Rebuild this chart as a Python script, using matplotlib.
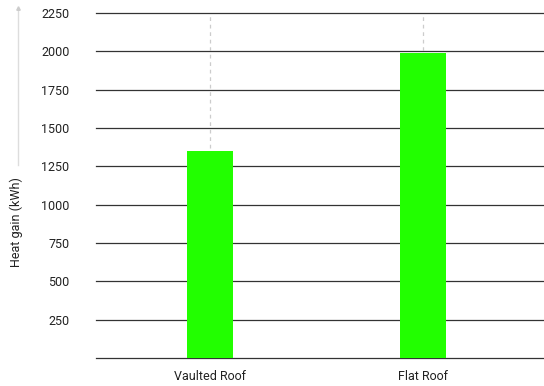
import matplotlib.pyplot as plt
from matplotlib.ticker import FixedLocator

# data
categories = ["Vaulted Roof", "Flat Roof"]
heat_gain = [1352, 1988]
y_ticks = [250, 500, 750, 1000, 1250, 1500, 1750, 2000, 2250]

plt.rcParams['font.family'] = ['Roboto', 'DejaVu Sans']

fig = plt.figure(figsize=(5.44, 3.86), dpi=100)
ax = fig.add_axes([96/544, 28/386, 1 - 96/544, (358 - 13)/386])

x = list(range(len(categories)))

# dashed guide at each category, behind the bars
for xi in x:
    ax.axvline(xi, color="#cccccc", linestyle=(0, (3, 3)), linewidth=0.9, zorder=1)

# horizontal grid lines incl. zero line
for yv in [0] + y_ticks:
    ax.axhline(yv, color="#333333", linewidth=0.9, zorder=0, clip_on=False)

ax.bar(x, heat_gain, width=0.22, color="#22ff00", zorder=2)

ax.set_xlim(-0.535, 1.568)
ax.set_ylim(0, 2250)
ax.yaxis.set_major_locator(FixedLocator(y_ticks))
ax.set_xticks(x)
ax.set_xticklabels(categories)
ax.tick_params(axis="both", length=0, labelsize=9, colors="#222222")
ax.tick_params(axis="y", pad=19)
ax.tick_params(axis="x", pad=9)
for s in ax.spines.values():
    s.set_visible(False)

# y label with the arrow line above it
fig.text(16/544, 1 - 222/386, "Heat gain (kWh)", rotation=90, ha="center", va="center",
         fontsize=9, color="#222222")
fig.add_artist(plt.Line2D([18/544, 18/544], [1 - 165/386, 1 - 9/386], color="#dddddd", linewidth=1.0))
fig.add_artist(plt.Line2D([18/544], [1 - 8/386], marker="^", markersize=2.5, color="#cccccc"))

fig.savefig("out.png", dpi=100)
